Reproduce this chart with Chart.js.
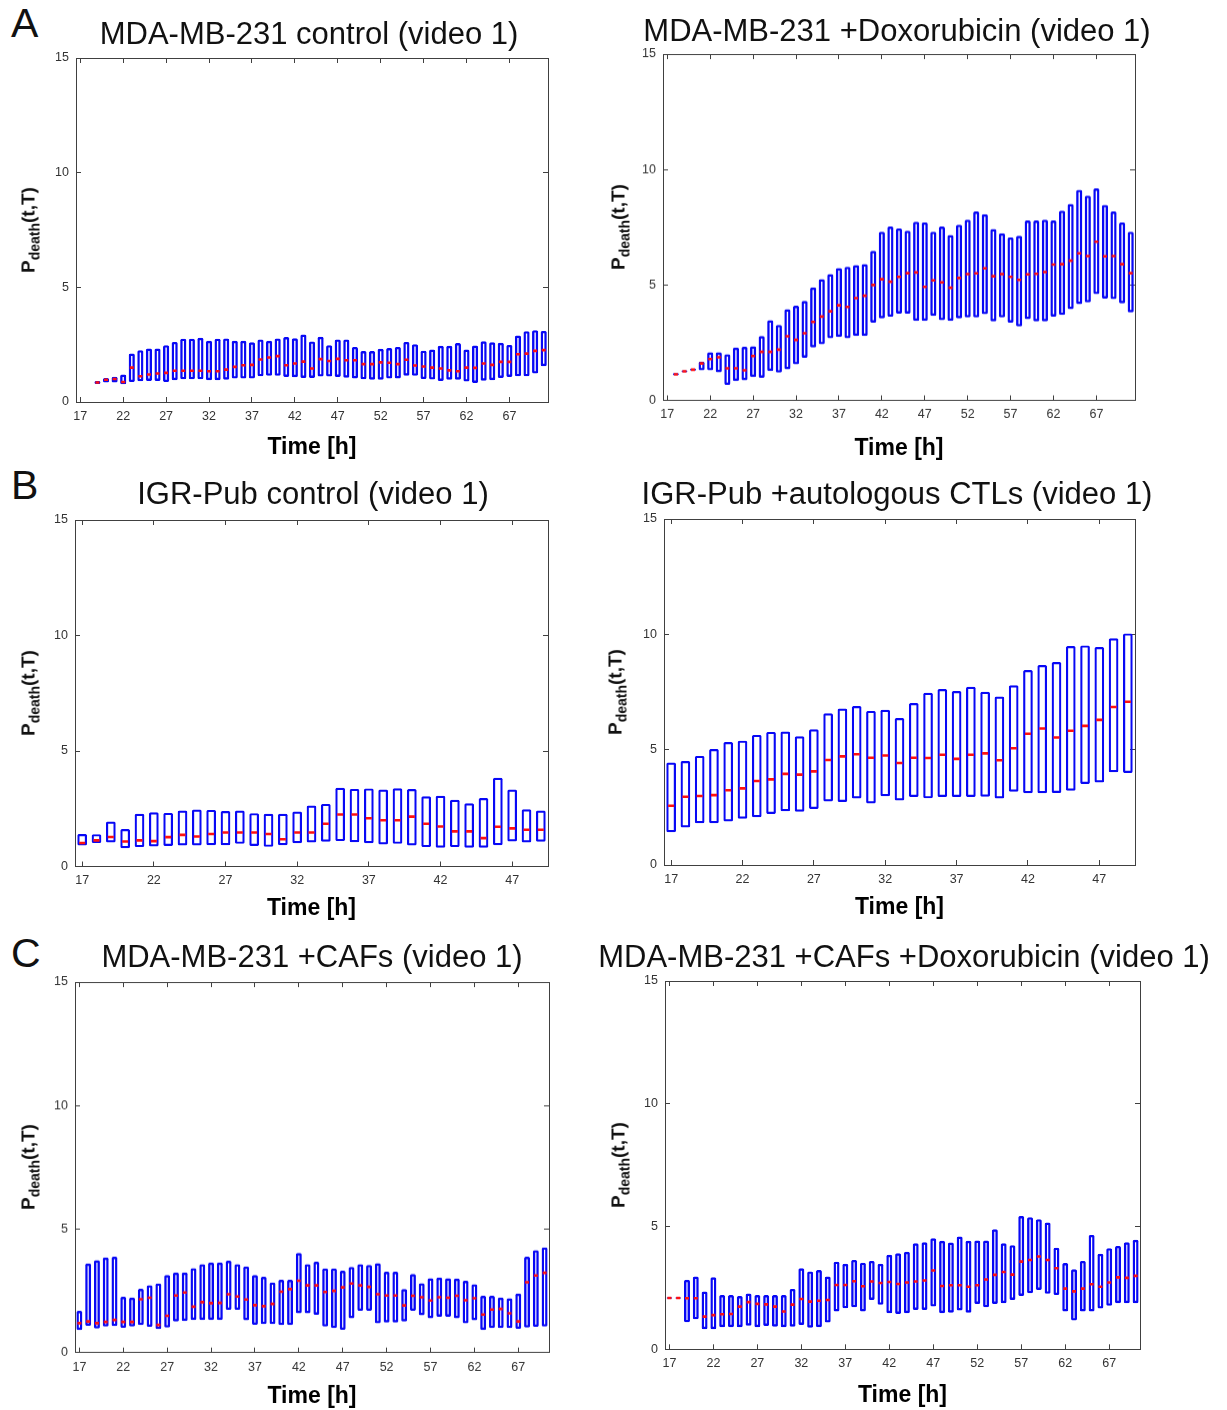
<!DOCTYPE html>
<html><head><meta charset="utf-8">
<script src="https://cdn.jsdelivr.net/npm/chart.js@4.4.1/dist/chart.umd.min.js"></script>
<style>
html,body{margin:0;padding:0;background:#fff;}
body{width:1227px;height:1410px;position:relative;overflow:hidden;font-family:"Liberation Sans",Arial,sans-serif;}
.box{position:absolute;}
.t{position:absolute;white-space:nowrap;line-height:1;color:#111;}
.yl{position:absolute;white-space:nowrap;line-height:1;color:#111;font-weight:bold;font-size:19px;transform:translate(-50%,-50%) rotate(-90deg);}
.yl sub{font-size:14px;vertical-align:-5px;}
</style></head><body>
<script>
// ---------- DATA ----------
const tickLabelsB = ['17','22','27','32','37','42','47'];
const tickLabelsAC = ['17','22','27','32','37','42','47','52','57','62','67'];
const yTicks = [0, 5, 10, 15];

// Panel A left: MDA-MB-231 control, hours 19..71
const ctrlA_first = 19;
const ctrlA_lo = [0.78,0.85,0.85,0.77,0.87,0.90,0.92,0.92,0.87,0.95,0.99,0.99,0.99,0.95,0.95,0.97,1.02,1.02,1.02,1.12,1.14,1.14,1.09,1.08,1.05,1.05,1.11,1.11,1.09,1.06,1.03,0.99,0.97,0.97,1.02,1.03,1.15,1.14,1.00,0.98,0.92,0.97,0.97,0.89,0.83,0.93,0.95,1.05,1.09,1.12,1.12,1.24,1.56];
const ctrlA_hi = [0.92,1.05,1.10,1.20,2.11,2.26,2.33,2.33,2.48,2.62,2.76,2.76,2.80,2.67,2.76,2.77,2.67,2.67,2.60,2.73,2.67,2.77,2.83,2.78,2.94,2.64,2.84,2.48,2.73,2.73,2.40,2.22,2.22,2.32,2.35,2.40,2.62,2.52,2.24,2.29,2.45,2.45,2.57,2.29,2.46,2.65,2.60,2.58,2.49,2.90,3.09,3.13,3.10];
const ctrlA_med = [0.85,0.97,1.00,0.87,1.50,1.12,1.20,1.24,1.27,1.36,1.36,1.36,1.36,1.34,1.34,1.41,1.53,1.60,1.62,1.85,1.94,2.00,1.60,1.68,1.76,1.46,1.87,1.79,1.88,1.82,1.82,1.65,1.65,1.73,1.71,1.65,1.84,1.59,1.55,1.50,1.46,1.38,1.34,1.50,1.49,1.68,1.62,1.75,1.75,2.08,2.11,2.23,2.26];

// Panel A right: MDA-MB-231 +Doxorubicin, hours 18..71
const doxA_first = 18;
const doxA_lo = [1.08,1.22,1.28,1.30,1.30,1.22,0.67,0.84,0.87,1.01,0.98,1.27,1.20,1.35,1.56,1.85,2.29,2.43,2.69,2.75,2.69,2.79,2.79,3.37,3.55,3.62,3.76,3.76,3.44,3.44,3.66,3.47,3.44,3.55,3.59,3.59,3.73,3.42,3.59,3.37,3.20,3.52,3.42,3.42,3.63,3.70,3.95,4.17,4.24,4.60,4.41,4.38,4.20,3.81];
const doxA_hi = [1.18,1.30,1.38,1.68,2.08,2.08,2.00,2.29,2.32,2.34,2.79,3.47,3.27,3.95,4.10,4.31,4.89,5.25,5.47,5.73,5.79,5.86,5.90,6.48,7.31,7.53,7.45,7.35,7.74,7.71,7.31,7.53,7.16,7.61,7.83,8.18,8.06,7.42,7.24,7.06,7.13,7.79,7.79,7.83,7.79,8.22,8.51,9.12,8.87,9.18,8.47,8.18,7.71,7.31];
const doxA_med = [1.13,1.26,1.33,1.60,1.79,1.87,1.39,1.39,1.30,1.92,2.10,2.10,2.20,2.78,2.62,2.91,3.40,3.63,3.86,4.12,4.05,4.43,4.53,5.00,5.25,5.14,5.35,5.51,5.54,4.92,5.20,5.11,4.88,5.30,5.47,5.50,5.72,5.38,5.47,5.35,5.22,5.46,5.48,5.56,5.88,5.90,6.05,6.37,6.25,6.87,6.24,6.25,5.90,5.51];

// Panel B left: IGR-Pub control, hours 17..49
const ctrlB_first = 17;
const ctrlB_lo = [0.91,1.02,1.04,0.79,0.84,0.87,0.89,0.91,0.91,0.92,0.92,0.98,0.89,0.85,0.92,1.01,1.04,1.07,1.10,1.05,1.01,0.95,0.98,0.91,0.84,0.81,0.84,0.81,0.81,0.92,1.08,1.04,1.07];
const ctrlB_hi = [1.41,1.40,1.95,1.62,2.28,2.35,2.32,2.42,2.47,2.45,2.40,2.42,2.31,2.28,2.28,2.38,2.64,2.71,3.41,3.36,3.38,3.33,3.39,3.35,3.04,3.06,2.89,2.74,2.96,3.84,3.33,2.48,2.42];
const ctrlB_med = [1.02,1.13,1.28,1.08,1.13,1.10,1.27,1.37,1.30,1.41,1.47,1.47,1.47,1.41,1.18,1.47,1.47,1.85,2.25,2.25,2.09,2.00,2.00,2.16,1.85,1.73,1.52,1.52,1.23,1.72,1.65,1.59,1.59];

// Panel B right: IGR-Pub +autologous CTLs, hours 17..49
const ctlB_first = 17;
const ctlB_lo = [1.42,1.63,1.81,1.81,1.89,2.01,2.07,2.21,2.33,2.31,2.43,2.75,2.73,2.88,2.67,2.98,2.80,2.95,2.89,2.95,2.95,2.95,2.96,2.88,3.18,3.11,3.11,3.12,3.22,3.51,3.58,4.02,3.99];
const ctlB_hi = [4.44,4.51,4.73,5.03,5.33,5.39,5.64,5.77,5.79,5.58,5.88,6.58,6.78,6.89,6.68,6.73,6.37,7.02,7.47,7.63,7.54,7.73,7.51,7.30,7.79,8.45,8.67,8.80,9.49,9.52,9.45,9.83,10.04];
const ctlB_med = [2.57,2.96,2.99,3.03,3.24,3.32,3.64,3.71,3.95,3.92,4.06,4.55,4.71,4.80,4.65,4.75,4.42,4.65,4.64,4.78,4.60,4.78,4.84,4.54,5.06,5.69,5.92,5.53,5.82,6.03,6.29,6.85,7.08];

// Panel C left: MDA-MB-231 +CAFs, hours 17..70
const cafC_first = 17;
const cafC_lo = [0.91,1.08,0.97,1.05,1.07,1.00,1.05,1.11,1.04,0.95,1.01,1.26,1.28,1.32,1.32,1.32,1.32,1.73,1.73,1.31,1.12,1.15,1.15,1.11,1.11,1.59,1.59,1.53,1.05,0.99,0.92,1.39,1.69,1.69,1.18,1.22,1.22,1.26,1.69,1.51,1.39,1.45,1.45,1.39,1.18,1.31,0.91,0.99,0.99,0.99,0.96,1.01,1.04,1.05];
const cafC_hi = [1.69,3.61,3.74,3.85,3.88,2.26,2.23,2.58,2.73,2.80,3.14,3.24,3.24,3.42,3.58,3.65,3.65,3.72,3.58,3.49,3.14,3.07,2.84,2.95,2.95,4.03,3.58,3.68,3.41,3.41,3.31,3.47,3.58,3.55,3.62,3.27,3.27,2.57,3.18,2.81,3.01,3.04,3.01,3.00,2.91,2.77,2.30,2.30,2.23,2.20,2.39,3.88,4.15,4.26];
const cafC_med = [1.19,1.26,1.19,1.24,1.32,1.24,1.24,2.16,2.22,1.12,1.49,2.31,2.43,1.86,2.04,2.00,2.01,2.36,2.27,2.15,1.92,1.88,1.97,2.46,2.57,2.91,2.72,2.72,2.45,2.50,2.64,2.80,2.72,2.66,2.36,2.31,2.31,1.91,2.30,2.24,2.11,2.24,2.22,2.30,2.12,2.20,1.54,1.74,1.77,1.59,1.26,2.85,3.12,3.23];

// Panel C right: MDA-MB-231 +CAFs +Doxorubicin, hours 17..70
const cafDoxC_first = 17;
const cafDoxC_lo = [2.06,2.06,1.10,1.22,0.82,0.82,0.90,0.90,0.90,0.96,0.90,0.95,0.92,0.90,0.92,0.99,0.88,0.90,1.09,1.54,1.67,1.71,1.54,2.01,1.81,1.47,1.44,1.47,1.60,1.60,1.74,1.47,1.49,1.58,1.49,1.85,1.71,1.85,1.88,2.01,2.17,2.28,2.42,2.26,2.21,1.54,1.17,1.54,1.54,1.66,1.77,1.88,1.88,1.88];
const cafDoxC_hi = [2.12,2.12,2.83,2.96,2.35,2.93,2.21,2.21,2.17,2.27,2.21,2.21,2.21,2.21,2.46,3.30,3.17,3.23,2.96,3.57,3.48,3.64,3.53,3.60,3.48,3.85,3.91,3.97,4.32,4.36,4.52,4.42,4.35,4.59,4.42,4.43,4.43,4.89,4.32,4.24,5.43,5.38,5.30,5.16,4.14,3.51,3.26,3.60,4.66,3.89,4.12,4.21,4.36,4.46];
const cafDoxC_med = [2.09,2.09,2.08,2.08,1.33,1.39,1.43,1.44,1.74,1.92,1.85,1.83,1.74,1.54,1.82,2.05,1.94,1.98,2.01,2.62,2.62,2.77,2.57,2.76,2.70,2.74,2.66,2.72,2.76,2.80,3.21,2.58,2.61,2.61,2.55,2.61,2.84,3.03,3.15,3.04,3.57,3.64,3.78,3.64,3.30,2.47,2.36,2.47,2.65,2.55,2.72,2.93,2.91,2.99];

// ---------- LAYOUT ----------
const panels = [
  {title:'MDA-MB-231 control (video 1)', hFirst:17, hLast:71, ticks:tickLabelsAC, first:ctrlA_first, lo:ctrlA_lo, hi:ctrlA_hi, med:ctrlA_med,
   L:76, R:548, T:58, B:402, tOff:46, tx:309, tBase:44.5, ylx:30, yly:230, medR:2, barPct:0.9, bw:2.4},
  {title:'MDA-MB-231 +Doxorubicin (video 1)', hFirst:17, hLast:71, ticks:tickLabelsAC, first:doxA_first, lo:doxA_lo, hi:doxA_hi, med:doxA_med,
   L:663, R:1135, T:54, B:399.5, tOff:48.5, tx:897, tBase:41, ylx:620, yly:227, medR:2, barPct:0.9, bw:2.4},
  {title:'IGR-Pub control (video 1)', hFirst:17, hLast:49, ticks:tickLabelsB, first:ctrlB_first, lo:ctrlB_lo, hi:ctrlB_hi, med:ctrlB_med,
   L:75, R:548, T:519.5, B:866, tOff:42, tx:313, tBase:504, ylx:30, yly:693, medR:3, barPct:0.85, bw:2.2},
  {title:'IGR-Pub +autologous CTLs (video 1)', hFirst:17, hLast:49, ticks:tickLabelsB, first:ctlB_first, lo:ctlB_lo, hi:ctlB_hi, med:ctlB_med,
   L:664, R:1135, T:519, B:865, tOff:43, tx:897, tBase:504, ylx:617, yly:692, medR:3, barPct:0.85, bw:2.2},
  {title:'MDA-MB-231 +CAFs (video 1)', hFirst:17, hLast:70, ticks:tickLabelsAC, first:cafC_first, lo:cafC_lo, hi:cafC_hi, med:cafC_med,
   L:75, R:549, T:982, B:1351.7, tOff:44, tx:312, tBase:967, ylx:30, yly:1167, medR:2, barPct:0.85, bw:2.4},
  {title:'MDA-MB-231 +CAFs +Doxorubicin (video 1)', hFirst:17, hLast:70, ticks:tickLabelsAC, first:cafDoxC_first, lo:cafDoxC_lo, hi:cafDoxC_hi, med:cafDoxC_med,
   L:665, R:1140, T:981, B:1349.3, tOff:46, tx:904, tBase:967, ylx:620, yly:1165, medR:2, barPct:0.85, bw:2.4}
];
const letters = [{t:'A', base:38}, {t:'B', base:500}, {t:'C', base:968}];

Chart.defaults.font.family = '"Liberation Sans", Arial, sans-serif';

function addText(cls, html, css) {
  const d = document.createElement('div');
  d.className = cls; d.innerHTML = html;
  Object.assign(d.style, css);
  document.body.appendChild(d);
  return d;
}

letters.forEach(l => addText('t', l.t, {left:'11px', top:(l.base - 0.8465*41)+'px', fontSize:'41px'}));

const AXC = '#404040';
const YW = 50, XH = 66, PT = 24, PR = 14;

panels.forEach(p => {
  const x0 = p.L - YW, y0 = p.T - PT;
  const w = p.R - x0 + PR, h = p.B - y0 + XH;
  const holder = document.createElement('div');
  holder.className = 'box';
  Object.assign(holder.style, {left:x0+'px', top:y0+'px', width:w+'px', height:h+'px'});
  const cv = document.createElement('canvas');
  holder.appendChild(cv);
  document.body.appendChild(holder);

  addText('t', p.title, {left:p.tx+'px', top:(p.tBase - 0.8465*31)+'px', fontSize:'31px', transform:'translateX(-50%)'});
  addText('yl', 'P<sub>death</sub>(t,T)', {left:p.ylx+'px', top:p.yly+'px'});

  const labels = [];
  for (let hh = p.hFirst; hh <= p.hLast; hh++) labels.push(String(hh));
  const off = p.first - p.hFirst;
  const boxData = labels.map((_, i) => (i >= off && i - off < p.lo.length) ? [p.lo[i-off], p.hi[i-off]] : null);
  const medData = labels.map((_, i) => (i >= off && i - off < p.med.length) ? p.med[i-off] : null);

  const gridOpts = {offset:false, drawOnChartArea:false, drawTicks:true, tickLength:-5, color:AXC, lineWidth:1};
  const borderOpts = {display:true, color:AXC, width:1};
  const showTick = function(v){ const lab = this.getLabelForValue(v); return p.ticks.includes(lab) ? lab : null; };
  const showTickBlank = function(v){ const lab = this.getLabelForValue(v); return p.ticks.includes(lab) ? '' : null; };

  new Chart(cv, {
    type:'bar',
    data:{labels, datasets:[
      {type:'line', label:'median', data:medData, showLine:false, pointStyle:'line',
       pointRadius:p.medR, pointHoverRadius:p.medR, pointBorderWidth:2.6, borderColor:'#ff1010', pointBorderColor:'#ff1010',
       backgroundColor:'#ff1010', order:0, xAxisID:'x', yAxisID:'y'},
      {type:'bar', label:'IQR', data:boxData, backgroundColor:'rgba(255,255,255,0)', borderColor:'#0808f5',
       borderWidth:p.bw, borderSkipped:false, borderRadius:1.5, barPercentage:p.barPct, categoryPercentage:0.8,
       order:1, xAxisID:'x', yAxisID:'y'}
    ]},
    options:{
      responsive:true, maintainAspectRatio:false, animation:false, events:[],
      layout:{padding:{left:0, top:PT, right:PR, bottom:0}},
      plugins:{legend:{display:false}, tooltip:{enabled:false}, title:{display:false}},
      scales:{
        x:{type:'category', position:'bottom', offset:true, grid:gridOpts, border:borderOpts,
           ticks:{autoSkip:false, maxRotation:0, minRotation:0, padding:12, color:'#333', font:{size:12.5}, callback:showTick},
           title:{display:true, text:'Time [h]', color:'#000', font:{size:23, weight:'bold'},
                  padding:{top:0, bottom:Math.max(0, XH - 13.8 - p.tOff)}},
           afterFit(s){ s.height = XH; }},
        x2:{type:'category', position:'top', offset:true, grid:gridOpts, border:borderOpts,
           ticks:{autoSkip:false, maxRotation:0, minRotation:0, padding:0, callback:showTickBlank},
           afterFit(s){ s.height = 0; }},
        y:{type:'linear', position:'left', min:yTicks[0], max:yTicks[yTicks.length-1], grid:gridOpts, border:borderOpts,
           ticks:{stepSize:5, padding:12, color:'#333', font:{size:12.5}},
           afterFit(s){ s.width = YW; }},
        y2:{type:'linear', position:'right', min:yTicks[0], max:yTicks[yTicks.length-1], grid:gridOpts, border:borderOpts,
           ticks:{stepSize:5, padding:0, callback:() => ''},
           afterFit(s){ s.width = 0; }}
      }
    }
  });
});
</script>
</body></html>
